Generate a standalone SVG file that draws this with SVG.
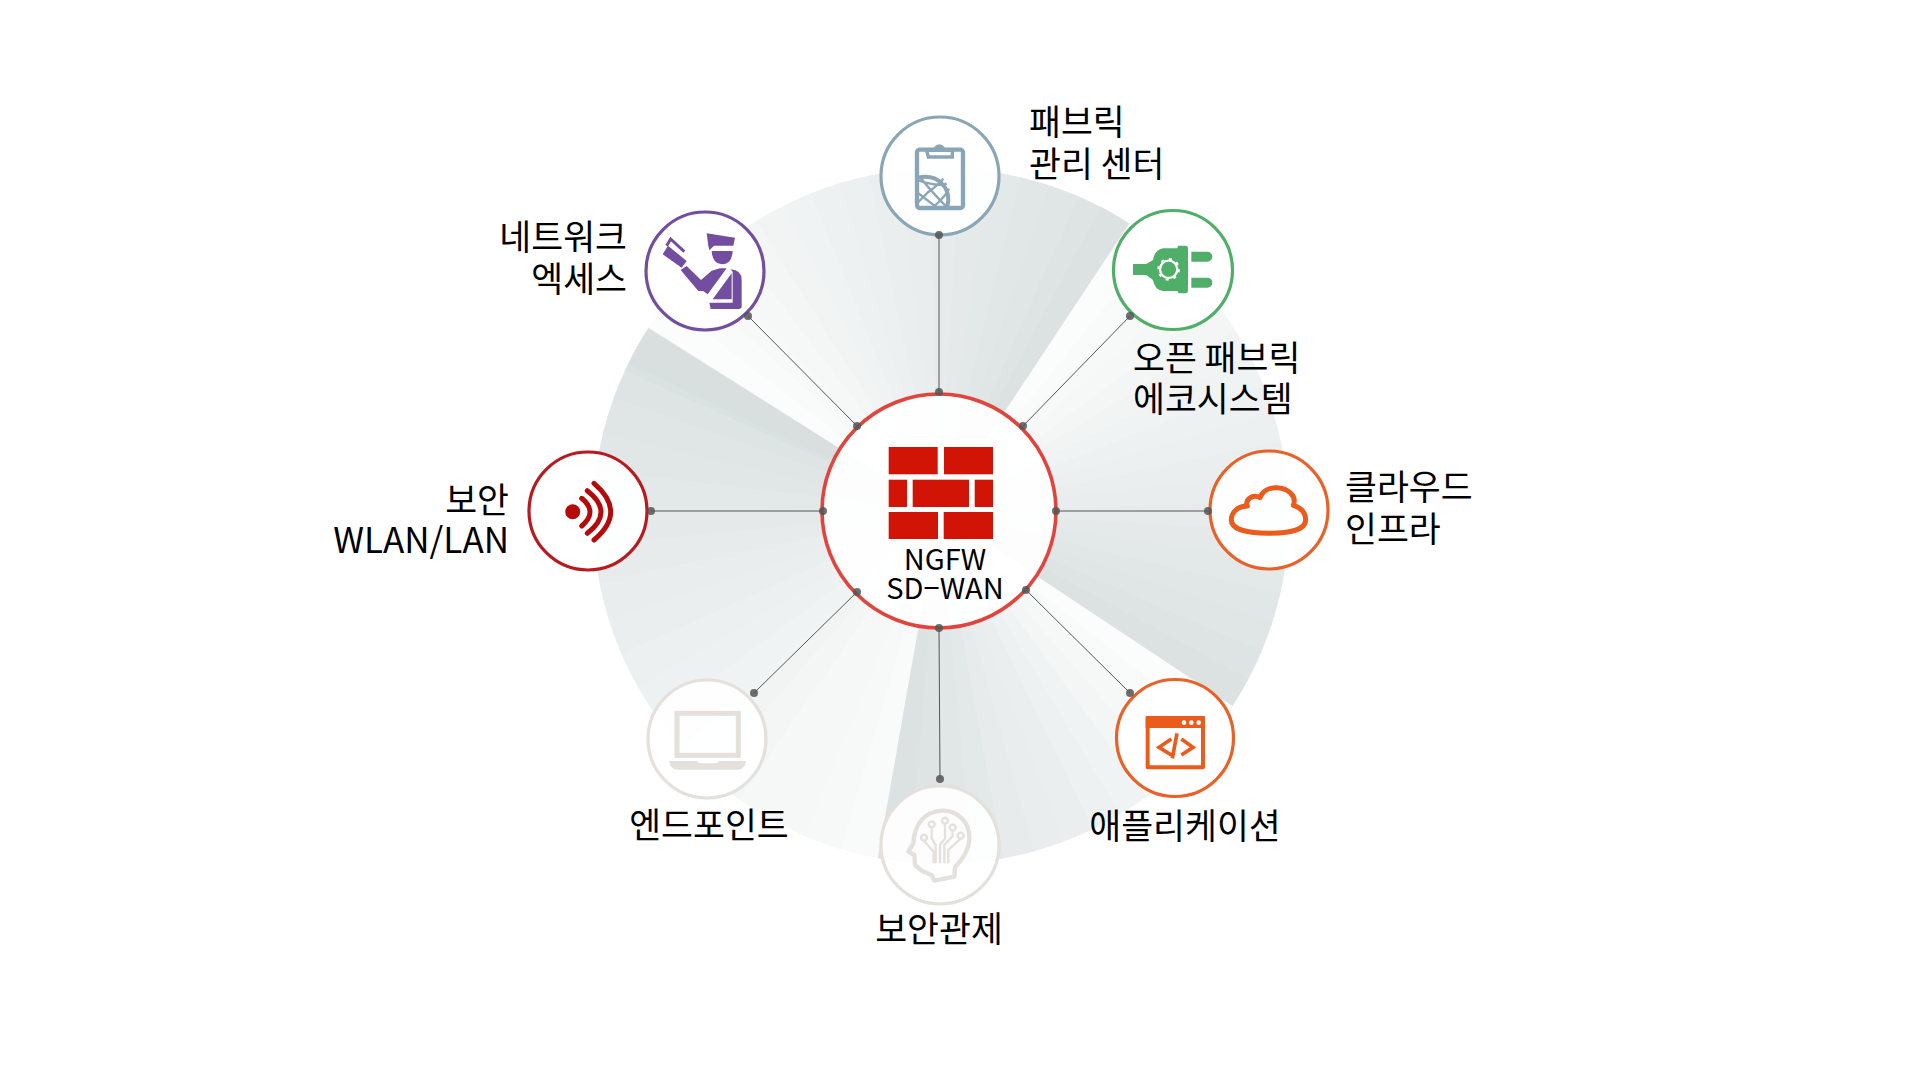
<svg xmlns="http://www.w3.org/2000/svg" width="1920" height="1080" viewBox="0 0 1920 1080">
<style>
.c0{stroke:#fbfcfc}.c1{stroke:#f9fafa}.c2{stroke:#f7f8f8}.c3{stroke:#f6f8f8}.c4{stroke:#f4f6f6}.c5{stroke:#f2f4f4}.c6{stroke:#f0f3f3}.c7{stroke:#eef1f1}.c8{stroke:#ecf0f0}.c9{stroke:#ebeeee}.c10{stroke:#e9eded}.c11{stroke:#e7ebeb}.c12{stroke:#e5e9e9}.c13{stroke:#e3e8e8}.c14{stroke:#e1e6e6}.c15{stroke:#e0e5e5}.c16{stroke:#dee3e3}.c17{stroke:#dce1e1}
.ring{fill:#fff;fill-opacity:.92;stroke-width:3.2}
.t{font-family:"Noto Sans CJK KR","Noto Sans",sans-serif;font-size:34.7px;font-weight:400;fill:#000}
.m{text-anchor:middle}.e{text-anchor:end}
.cn{stroke:#555;stroke-width:1;fill:none}
.dot{fill:#555;fill-opacity:.85;stroke:none}
.brick{fill:#d21406}
.lg{stroke:#e4e0dc;fill:none}
</style>
<defs>
<circle id="s" cx="939" cy="511" r="200" fill="none" stroke-width="400" pathLength="360"/>
<clipPath id="disc"><circle cx="941" cy="516" r="348"/></clipPath>
<clipPath id="board"><rect x="130" y="115" width="132" height="170"/></clipPath>
</defs>
<rect width="1920" height="1080" fill="#fff"/>
<g id="fan" clip-path="url(#disc)">
<g stroke-dasharray="5.6 720">
<use href="#s" class="c0" transform="rotate(303.5 939 511)"/><use href="#s" class="c1" transform="rotate(308.5 939 511)"/><use href="#s" class="c2" transform="rotate(313.5 939 511)"/><use href="#s" class="c3" transform="rotate(318.5 939 511)"/><use href="#s" class="c4" transform="rotate(323.5 939 511)"/><use href="#s" class="c5" transform="rotate(328.5 939 511)"/><use href="#s" class="c6" transform="rotate(333.5 939 511)"/><use href="#s" class="c7" transform="rotate(338.5 939 511)"/><use href="#s" class="c8" transform="rotate(343.5 939 511)"/><use href="#s" class="c9" transform="rotate(348.5 939 511)"/><use href="#s" class="c10" transform="rotate(353.5 939 511)"/><use href="#s" class="c11" transform="rotate(358.5 939 511)"/><use href="#s" class="c12" transform="rotate(3.5 939 511)"/><use href="#s" class="c13" transform="rotate(8.5 939 511)"/><use href="#s" class="c14" transform="rotate(13.5 939 511)"/><use href="#s" class="c15" transform="rotate(18.5 939 511)"/><use href="#s" class="c16" transform="rotate(23.5 939 511)"/><use href="#s" class="c17" transform="rotate(28.5 939 511)"/>
</g>
<g stroke-dasharray="5.6 720">
<use href="#s" class="c0" transform="rotate(33.6 939 511)"/><use href="#s" class="c1" transform="rotate(38.7 939 511)"/><use href="#s" class="c3" transform="rotate(43.8 939 511)"/><use href="#s" class="c4" transform="rotate(48.9 939 511)"/><use href="#s" class="c6" transform="rotate(54 939 511)"/><use href="#s" class="c7" transform="rotate(59.1 939 511)"/><use href="#s" class="c9" transform="rotate(64.2 939 511)"/><use href="#s" class="c10" transform="rotate(69.3 939 511)"/><use href="#s" class="c11" transform="rotate(74.4 939 511)"/><use href="#s" class="c13" transform="rotate(79.5 939 511)"/><use href="#s" class="c14" transform="rotate(84.6 939 511)"/><use href="#s" class="c16" transform="rotate(89.7 939 511)"/><use href="#s" class="c17" transform="rotate(94.8 939 511)"/>
</g>
<g stroke-dasharray="6.8 720">
<use href="#s" class="c1" transform="rotate(100 939 511)"/><use href="#s" class="c2" transform="rotate(106.2 939 511)"/><use href="#s" class="c3" transform="rotate(112.4 939 511)"/><use href="#s" class="c3" transform="rotate(118.6 939 511)"/><use href="#s" class="c4" transform="rotate(124.8 939 511)"/><use href="#s" class="c5" transform="rotate(131 939 511)"/><use href="#s" class="c6" transform="rotate(137.2 939 511)"/><use href="#s" class="c7" transform="rotate(143.4 939 511)"/><use href="#s" class="c8" transform="rotate(149.6 939 511)"/><use href="#s" class="c9" transform="rotate(155.8 939 511)"/><use href="#s" class="c10" transform="rotate(162 939 511)"/><use href="#s" class="c11" transform="rotate(168.2 939 511)"/><use href="#s" class="c12" transform="rotate(174.4 939 511)"/><use href="#s" class="c13" transform="rotate(180.6 939 511)"/><use href="#s" class="c14" transform="rotate(186.8 939 511)"/><use href="#s" class="c15" transform="rotate(193 939 511)"/><use href="#s" class="c16" transform="rotate(199.2 939 511)"/><use href="#s" class="c17" transform="rotate(205.4 939 511)"/>
</g>
<g stroke-dasharray="5.6 720">
<use href="#s" class="c0" transform="rotate(212.3 939 511)"/><use href="#s" class="c1" transform="rotate(217.4 939 511)"/><use href="#s" class="c2" transform="rotate(222.5 939 511)"/><use href="#s" class="c3" transform="rotate(227.6 939 511)"/><use href="#s" class="c4" transform="rotate(232.7 939 511)"/><use href="#s" class="c5" transform="rotate(237.8 939 511)"/><use href="#s" class="c6" transform="rotate(242.9 939 511)"/><use href="#s" class="c7" transform="rotate(248 939 511)"/><use href="#s" class="c8" transform="rotate(253.1 939 511)"/><use href="#s" class="c9" transform="rotate(258.2 939 511)"/><use href="#s" class="c10" transform="rotate(263.3 939 511)"/><use href="#s" class="c11" transform="rotate(268.4 939 511)"/><use href="#s" class="c12" transform="rotate(273.5 939 511)"/><use href="#s" class="c13" transform="rotate(278.6 939 511)"/><use href="#s" class="c14" transform="rotate(283.7 939 511)"/><use href="#s" class="c15" transform="rotate(288.8 939 511)"/><use href="#s" class="c16" transform="rotate(293.9 939 511)"/><use href="#s" class="c17" transform="rotate(298 939 511)"/>
<use href="#s" class="c0" transform="rotate(303.5 939 511)"/>
</g>
<path d="M939 511L601 297L574 348Z" fill="#d5dcdc" fill-opacity=".35"/>
</g>

<g id="node-center">
<circle class="ring" cx="939" cy="511" r="117" stroke="#e1433d" style="stroke-width:3.6"/>
<rect class="brick" x="888.7" y="447" width="49" height="27.3"/><rect class="brick" x="944" y="447" width="49" height="27.3"/>
<rect class="brick" x="888.7" y="479.7" width="18.3" height="27.3"/><rect class="brick" x="912.7" y="479.7" width="56.3" height="27.3"/><rect class="brick" x="974.7" y="479.7" width="18.3" height="27.3"/>
<rect class="brick" x="888.7" y="512" width="49.3" height="27"/><rect class="brick" x="943.7" y="512" width="49.3" height="27"/>
<text class="t m" x="945" y="570" style="font-size:29px">NGFW</text>
<text class="t m" x="945" y="599" style="font-size:29px">SD−WAN</text>
</g>

<g id="node-fabric-mgmt">
<circle class="ring" cx="940" cy="176" r="59" stroke="#8aa5b5"/>
<g transform="translate(875 112) scale(.3333)" stroke="#8aa5b5" fill="none">
<g clip-path="url(#board)"><circle cx="152" cy="262" r="68" stroke-width="12"/>
<path stroke-width="7" d="M130 205Q190 225 215 215M125 240L190 290M125 275L160 240Q195 215 205 200M170 290Q215 250 222 230M135 195Q170 240 220 290"/></g>
<rect x="126" y="113" width="138" height="175" rx="8" stroke-width="13"/>
<path d="M155 115H232V135H160Z" fill="#fff" stroke-width="10"/>
<path d="M178 108Q193 90 208 108Z" fill="#8aa5b5" stroke-width="4"/>
</g>
<text class="t" x="1029" y="135">패브릭</text>
<text class="t" x="1029" y="177">관리 센터</text>
</g>

<g id="node-network-access">
<circle class="ring" cx="705" cy="271" r="59" stroke="#724da0"/>
<g transform="translate(640 205) scale(.3333)" fill="#724da0">
<path d="M200 85L285 98L280 122H222L208 136L205 122Z"/>
<path d="M215 138H278Q276 178 245 178Q217 176 215 138Z"/>
<path d="M122 195L140 183L183 225L215 197L240 190H260L203 268L190 258H175Z"/>
<path d="M272 193Q305 195 305 225V305Q305 312 290 312H278V200ZM275 205V283H218ZM208 293H278V312H212Z"/>
<path d="M68 148L84 122L140 168L125 188Z"/>
<path d="M80 122L92 102L133 140" fill="none" stroke="#724da0" stroke-width="9"/>
</g>
<text class="t e" x="627" y="250">네트워크</text>
<text class="t e" x="627" y="292">엑세스</text>
</g>

<g id="node-open-fabric">
<circle class="ring" cx="1173" cy="270" r="59.5" stroke="#4fae68"/>
<g transform="translate(1108 205) scale(.3333)" fill="#4fae68">
<path d="M75 177H115L135 165Q140 135 165 130H208L210 122H232Q240 122 240 130V255Q240 265 232 265H212L208 258H165Q140 255 135 225L115 210H75Z"/>
<path d="M250 140H298A15 15 0 0 1 298 170H250ZM250 218H298A15 15 0 0 1 298 248H250Z"/>
<circle cx="182" cy="193" r="26" fill="none" stroke="#fff" stroke-width="7"/>
<circle cx="182" cy="193" r="31" fill="none" stroke="#fff" stroke-width="6" stroke-dasharray="9 15.3"/>
</g>
<text class="t" x="1133" y="371">오픈 패브릭</text>
<text class="t" x="1133" y="412">에코시스템</text>
</g>

<g id="node-wlan">
<circle class="ring" cx="588" cy="511" r="59" stroke="#b71a1f"/>
<circle cx="572.7" cy="511.7" r="7.5" fill="#b60a0a"/>
<path d="M581.7 498.3Q598.3 512 581.7 526M587.3 490.7Q614.7 512 587.3 533.3M594 483.3Q627.4 512 594 540" fill="none" stroke="#b60a0a" stroke-width="5" stroke-linecap="round"/>
<text class="t e" x="509" y="513">보안</text>
<text class="t e" x="509" y="553" style="font-size:35px">WLAN/LAN</text>
</g>

<g id="node-cloud">
<circle class="ring" cx="1269" cy="510" r="59" stroke="#ea6127"/>
<path transform="translate(1204 446) scale(.3333)" d="M130 180C100 180 82 200 82 222C82 250 130 262 195 262C260 262 305 250 305 222C305 200 290 185 268 178C280 150 250 125 218 125C195 125 175 135 168 155C150 145 125 155 128 180Z" fill="none" stroke="#ea5b1c" stroke-width="15" stroke-linejoin="round"/>
<text class="t" x="1345" y="500">클라우드</text>
<text class="t" x="1345" y="542">인프라</text>
</g>

<g id="node-endpoint">
<circle class="ring" cx="707" cy="739" r="59" stroke="#e4e0dc"/>
<g transform="translate(642 675) scale(.3333)">
<rect class="lg" x="105" y="115" width="184" height="126" stroke-width="15"/>
<path d="M82 258H165L172 265H225L232 258H312Q310 282 290 284H105Q84 282 82 258Z" fill="#e4e0dc"/>
</g>
<text class="t m" x="709" y="838">엔드포인트</text>
</g>

<g id="node-application">
<circle class="ring" cx="1175" cy="738" r="58.5" stroke="#ea6127"/>
<g transform="translate(1108 675) scale(.3333)">
<rect x="119" y="129" width="166" height="148" fill="none" stroke="#ea5b1c" stroke-width="12" rx="2"/>
<rect x="113" y="123" width="178" height="36" fill="#ea5b1c" rx="3"/>
<circle cx="228" cy="143" r="7" fill="#fff"/><circle cx="250" cy="143" r="7" fill="#fff"/><circle cx="272" cy="143" r="7" fill="#fff"/>
<path d="M190 192L153 217L190 240M220 192L255 217L220 240M207 175L193 250" fill="none" stroke="#ea5b1c" stroke-width="11"/>
</g>
<text class="t m" x="1185" y="839">애플리케이션</text>
</g>

<g id="node-soc">
<circle class="ring" cx="940" cy="845" r="59" stroke="#e4e0dc"/>
<g class="lg" transform="translate(875 780) scale(.3333)">
<path d="M200 92C250 90 285 130 283 175C282 215 255 245 240 262L238 290L178 302L170 285L140 272L120 255L118 225L100 215L115 190C118 130 150 95 200 92Z" stroke-width="13" stroke-linejoin="round"/>
<circle cx="170" cy="133" r="9" stroke-width="7"/><circle cx="210" cy="122" r="9" stroke-width="7"/><circle cx="233" cy="143" r="9" stroke-width="7"/><circle cx="257" cy="167" r="9" stroke-width="7"/><circle cx="147" cy="173" r="9" stroke-width="7"/>
<path stroke-width="7" d="M170 142V175L182 195V250M210 131V175L195 195V250M233 152V168L208 195V250M257 176L220 210V250M147 182L176 215V250"/>
</g>
<text class="t m" x="939" y="942">보안관제</text>
</g>

<g id="connectors">
<path class="cn" d="M939 235V392M748 316L857 426M1130 316L1023 426M651 511H823M1056 511H1208M754 693L857 592M1130 693L1026 590M939 628L940 779"/>
<circle class="dot" cx="939" cy="235" r="4"/><circle class="dot" cx="939" cy="392" r="4"/><circle class="dot" cx="748" cy="316" r="4"/><circle class="dot" cx="857" cy="426" r="4"/><circle class="dot" cx="1130" cy="316" r="4"/><circle class="dot" cx="1023" cy="426" r="4"/><circle class="dot" cx="651" cy="511" r="4"/><circle class="dot" cx="823" cy="511" r="4"/><circle class="dot" cx="1056" cy="511" r="4"/><circle class="dot" cx="1208" cy="511" r="4"/><circle class="dot" cx="754" cy="693" r="4"/><circle class="dot" cx="857" cy="592" r="4"/><circle class="dot" cx="1130" cy="693" r="4"/><circle class="dot" cx="1026" cy="590" r="4"/><circle class="dot" cx="939" cy="628" r="4"/><circle class="dot" cx="940" cy="779" r="4"/>
</g>
</svg>
